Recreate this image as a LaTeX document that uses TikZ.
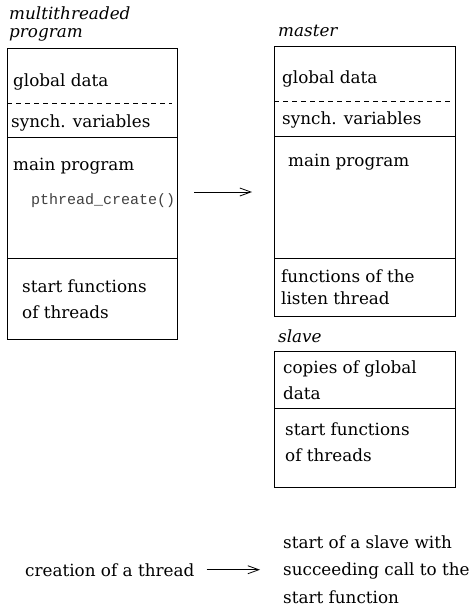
\documentclass[tikz,border=0pt]{standalone}
\usepackage{fontspec}
\setmainfont{DejaVu Serif}
\setmonofont{Liberation Mono}
\usepackage{tikz}
\usetikzlibrary{arrows.meta,positioning}
\tikzstyle{arrow}=[-{Straight Barb[length=11pt,width=8pt]},line width=.8pt]
\tikzstyle{part}=[rectangle,draw,line width=.8pt,anchor=north west,inner sep=0pt]
\tikzstyle{sep}=[dashed,dash pattern=on 5pt off 4pt,line width=.8pt]
\tikzstyle{txt}=[anchor=base west,inner sep=0pt,align=left,
                 font=\fontsize{16.8}{26}\selectfont]
\tikzstyle{title}=[txt,font=\fontsize{16.8}{18}\selectfont\itshape]

\begin{document}
\begin{tikzpicture}[x=1pt,y=-1pt]
\useasboundingbox (0,0) rectangle (471,608);

	\node[title] (tprog) at (9,37) {multithreaded\\program};
	\node[part,minimum width=170pt,minimum height=89pt] (pdata) at (7,48) {};
	\node[part,minimum width=170pt,minimum height=121pt] (pmain) at (7,137) {};
	\node[part,minimum width=170pt,minimum height=81pt] (pstart) at (7,258) {};
	\draw[sep] (pdata.west |- 0,103) -- (172,103);
	\node[txt] (pglob) at (13,86) {global data};
	\node[txt] (psync) at (11,127) {synch. variables};
	\node[txt] (pmaintxt) at (13,170) {main program};
	\node[txt,font=\fontsize{15}{18}\ttfamily,text=black!75] (pcreate) at (31,204) {pthread\_create()};
	\node[txt] (pfun) at (22,318) {start functions\\of threads};

	\node[title] (tmaster) at (278,36) {master};
	\node[part,minimum width=181pt,minimum height=90pt] (mdata) at (274,46) {};
	\node[part,minimum width=181pt,minimum height=122pt] (mmain) at (274,136) {};
	\node[part,minimum width=181pt,minimum height=58pt] (mlisten) at (274,258) {};
	\draw[sep] (mdata.west |- 0,101) -- (450,101);
	\node[txt] (mglob) at (282,83) {global data};
	\node[txt] (msync) at (282,124) {synch. variables};
	\node[txt] (mmaintxt) at (288,166) {main program};
	\node[txt,font=\fontsize{16.8}{22}\selectfont] (mfun) at (281,304) {functions of the\\listen thread};

	\node[title] (tslave) at (278,342) {slave};
	\node[part,minimum width=181pt,minimum height=57pt] (sdata) at (274,351) {};
	\node[part,minimum width=181pt,minimum height=79pt] (sstart) at (274,408) {};
	\node[txt] (scopy) at (283,399) {copies of global\\data};
	\node[txt] (sfun) at (285,461) {start functions\\of threads};

	\coordinate (cfrom) at (194,192);
	\coordinate (cto) at (252,192);
	\draw[arrow] (cfrom) -- (cto);

	\node[txt] (lcreate) at (25,576) {creation of a thread};
	\node[txt,font=\fontsize{16.8}{27.5}\selectfont] (lstart) at (283,603)
		{start of a slave with\\succeeding call to the\\start function};
	\draw[arrow,shorten <=12pt,shorten >=23pt] (lcreate.east) -- (lcreate.east -| lstart.west);

\end{tikzpicture}
\end{document}
